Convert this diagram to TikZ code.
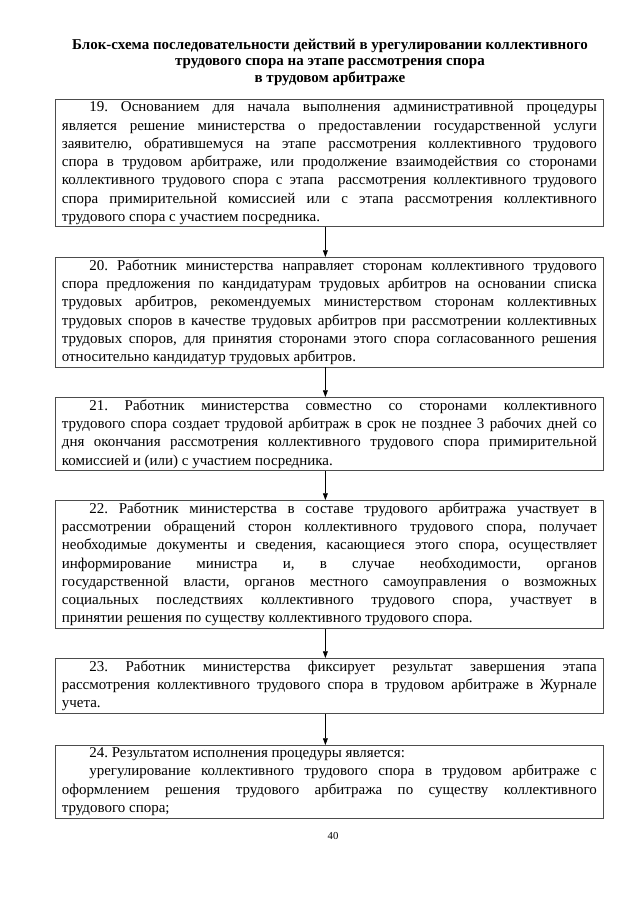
\documentclass[tikz,border=0pt]{standalone}
\usepackage{fontspec}
\setmainfont{Liberation Serif}
\usepackage{tikz}
\usetikzlibrary{arrows.meta,positioning}
\newcommand{\ind}{\hspace*{0.9cm}}
\newcommand{\nl}{\linebreak}
\newcommand{\boxfont}{\fontsize{14}{17}\selectfont\frenchspacing\tolerance=10000\relax\hyphenpenalty=10000\relax}

\begin{document}
\begin{tikzpicture}[x=0.0328125cm,y=-0.0328125cm,
    stepbox/.style={draw=black!70,line width=0.6pt,anchor=north west,text width=17.55cm,
      inner xsep=0.215cm,inner ysep=2.2pt,align=justify,font=\boxfont},
    arr/.style={-{Triangle[length=2.2mm,width=1.6mm]},black,line width=0.6pt}]
  \useasboundingbox (0,0) rectangle (640,905);
  % title
  \node[anchor=north,align=center,font=\fontsize{14}{15.6}\selectfont\bfseries] (title) at (330,35)
    {Блок-схема последовательности действий в урегулировании коллективного\\
     трудового спора на этапе рассмотрения спора\\
     в трудовом арбитраже};
  % steps
  \node[stepbox] (b19) at (55,99) {\ind 19. Основанием для начала выполнения административной процедуры\nl
    является решение министерства о предоставлении государственной услуги\nl
    заявителю, обратившемуся на этапе рассмотрения коллективного трудового\nl
    спора в трудовом арбитраже, или продолжение взаимодействия со сторонами\nl
    коллективного трудового спора с этапа \ рассмотрения коллективного трудового\nl
    спора примирительной комиссией или с этапа рассмотрения коллективного\nl
    трудового спора с участием посредника.};
  \node[stepbox] (b20) at (55,257) {\ind 20. Работник министерства направляет сторонам коллективного трудового\nl
    спора предложения по кандидатурам трудовых арбитров на основании списка\nl
    трудовых арбитров, рекомендуемых министерством сторонам коллективных\nl
    трудовых споров в качестве трудовых арбитров при рассмотрении коллективных\nl
    трудовых споров, для принятия сторонами этого спора согласованного решения\nl
    относительно кандидатур трудовых арбитров.};
  \node[stepbox] (b21) at (55,397) {\ind 21. Работник министерства совместно со сторонами коллективного\nl
    трудового спора создает трудовой арбитраж в срок не позднее 3 рабочих дней со\nl
    дня окончания рассмотрения коллективного трудового спора примирительной\nl
    комиссией и (или) с участием посредника.};
  \node[stepbox] (b22) at (55,500) {\ind 22. Работник министерства в составе трудового арбитража участвует в\nl
    рассмотрении обращений сторон коллективного трудового спора, получает\nl
    необходимые документы и сведения, касающиеся этого спора, осуществляет\nl
    информирование министра и, в случае необходимости, органов\nl
    государственной власти, органов местного самоуправления о возможных\nl
    социальных последствиях коллективного трудового спора, участвует в\nl
    принятии решения по существу коллективного трудового спора.};
  \node[stepbox] (b23) at (55,658) {\ind 23. Работник министерства фиксирует результат завершения этапа\nl
    рассмотрения коллективного трудового спора в трудовом арбитраже в Журнале\nl
    учета.};
  \node[stepbox] (b24) at (55,745) {\ind 24. Результатом исполнения процедуры является:\par
    \ind урегулирование коллективного трудового спора в трудовом арбитраже с\nl
    оформлением решения трудового арбитража по существу коллективного\nl
    трудового спора;};
  % arrows
  \foreach \a/\b in {b19/b20,b20/b21,b21/b22,b22/b23,b23/b24}
    \draw[arr] ([xshift=-0.13cm]\a.south) -- ([xshift=-0.13cm]\b.north);
  % page number
  \node[font=\fontsize{10}{12}\selectfont] (page) at (333,836) {40};
\end{tikzpicture}
\end{document}
